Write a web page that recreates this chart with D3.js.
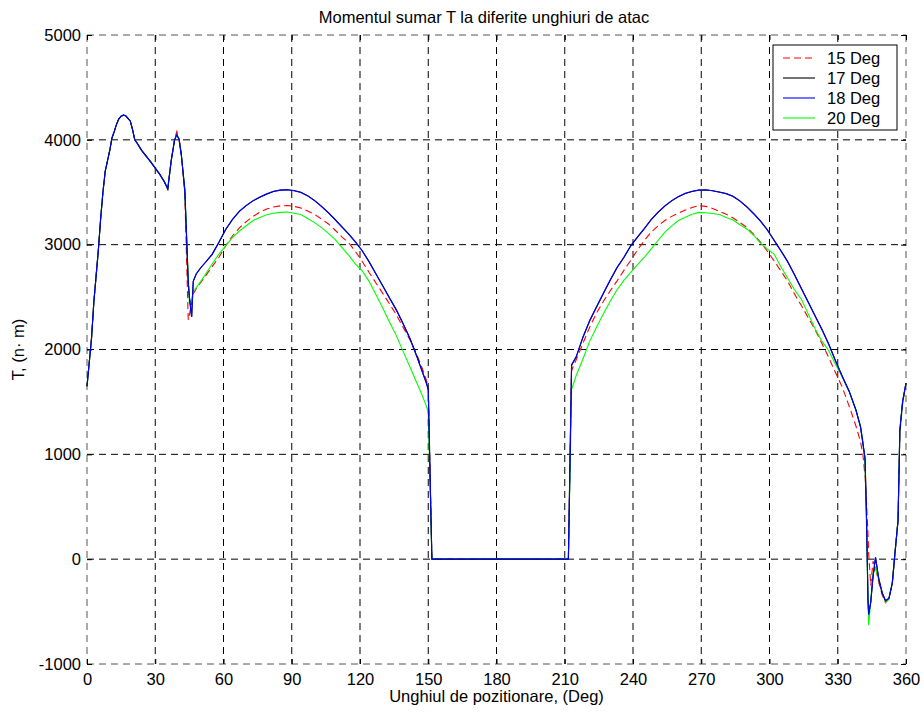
<!DOCTYPE html>
<html><head><meta charset="utf-8">
<script src="https://cdn.jsdelivr.net/npm/d3@7/dist/d3.min.js"></script>
<style>
body{margin:0;background:#fff}
text{font-family:"Liberation Sans",Arial,Helvetica,sans-serif;fill:#000}
</style>
</head><body>
<svg id="chart" width="924" height="713"></svg>
<script>
// ---- data ----
const title = "Momentul sumar T la diferite unghiuri de atac";
const xLabel = "Unghiul de pozitionare, (Deg)";
const yLabel = "T, (n· m)";
const xTicks = [0,30,60,90,120,150,180,210,240,270,300,330,360];
const yTicks = [-1000,0,1000,2000,3000,4000,5000];
const seriesNames = ["15 Deg","17 Deg","18 Deg","20 Deg"];

const angles = [
 0,2,3,4,5,6,7,8,9,10,11,12,13,14,15,16,17,18,19,20,21,22,24,26,28,30,32,34,35.5,37,38.5,39.5,40.5,41.5,43,44.5,45,46,46.7,
 48,50,52,55,58,61,64,67,70,73,76,79,82,85,88,91,94,97,100,103,106,109,112,115,118,121,124,127,130,133,136,139,142,145,147,149,150,151.6,
 180,211.6,
 213,215,218,221,224,227,230,233,236,239,242,245,248,251,254,257,260,263,266,269,272,275,278,281,284,287,290,293,296,299,302,305,308,311,314,317,320,323,326,329,332,335,338,
 340,341,342,342.6,343.3,343.6,344.5,345.5,346.6,348,349.5,351,352.5,354,355,356.5,357.3,358.5,360
];

const t15 = [
 1650,2110,2450,2700,2950,3250,3500,3700,3800,3900,4020,4080,4150,4200,4225,4235,4230,4205,4180,4100,4000,3970,3900,3845,3790,3730,3670,3600,3530,3800,4010,4080,4010,3860,3480,2283,2330,2440,2530,
 2580,2640,2700,2790,2880,2990,3085,3160,3220,3270,3310,3340,3360,3370,3373,3365,3350,3320,3290,3245,3200,3140,3075,3020,2935,2840,2735,2635,2535,2435,2330,2210,2090,1950,1840,1720,1650,0,
 0,0,
 1800,1900,2060,2215,2350,2460,2560,2655,2755,2850,2950,3040,3120,3180,3230,3270,3300,3330,3355,3372,3365,3345,3318,3290,3255,3210,3165,3100,3025,2940,2845,2750,2650,2530,2420,2305,2190,2060,1925,1780,1640,1460,1270,
 1120,1010,790,560,230,50,-250,-20,-80,-220,-340,-415,-380,-220,20,370,1200,1480,1680
];

const t17 = [
 1650,2110,2450,2700,2950,3250,3500,3700,3800,3900,4020,4080,4150,4200,4225,4235,4230,4205,4180,4100,4000,3970,3900,3845,3790,3730,3670,3600,3530,3800,4000,4050,4000,3850,3520,2640,2500,2310,2650,
 2720,2780,2830,2905,3020,3145,3240,3318,3372,3418,3452,3482,3508,3520,3524,3517,3500,3468,3422,3368,3308,3242,3172,3102,3028,2942,2838,2722,2608,2492,2378,2245,2105,1935,1812,1692,1620,0,
 0,0,
 1850,1925,2115,2275,2405,2535,2660,2780,2878,2988,3072,3152,3238,3308,3368,3418,3458,3488,3508,3520,3522,3515,3502,3487,3462,3418,3362,3298,3228,3145,3045,2945,2840,2715,2585,2455,2325,2195,2055,1895,1745,1605,1425,
 1265,1115,965,445,-395,-525,-410,-165,15,-185,-322,-398,-372,-228,22,372,1230,1500,1680
];

const t18 = [
 1650,2110,2450,2700,2950,3250,3500,3700,3800,3900,4020,4080,4150,4200,4225,4235,4230,4205,4180,4100,4000,3970,3900,3845,3790,3730,3670,3600,3530,3800,4000,4050,4000,3850,3520,2640,2500,2310,2650,
 2720,2780,2830,2910,3025,3150,3245,3320,3375,3420,3455,3485,3510,3520,3524,3515,3498,3465,3420,3365,3305,3240,3170,3100,3025,2940,2835,2720,2605,2490,2375,2240,2100,1930,1810,1690,1620,0,
 0,0,
 1855,1930,2120,2280,2410,2540,2665,2785,2880,2990,3075,3155,3240,3310,3370,3420,3460,3490,3510,3522,3524,3515,3500,3485,3460,3415,3360,3295,3225,3140,3040,2940,2835,2710,2580,2450,2320,2190,2050,1890,1740,1600,1420,
 1260,1110,960,440,-400,-530,-413,-170,20,-180,-320,-395,-375,-230,20,370,1230,1500,1680
];

const t20 = [
 1650,2110,2450,2700,2950,3250,3500,3700,3800,3900,4020,4080,4150,4200,4225,4235,4230,4205,4180,4100,4000,3970,3900,3845,3790,3730,3670,3600,3530,3800,4000,4050,4000,3850,3520,2700,2445,2480,2553,
 2590,2650,2715,2815,2910,2990,3070,3130,3180,3230,3260,3285,3300,3308,3311,3300,3288,3250,3210,3165,3110,3050,2975,2900,2815,2750,2650,2525,2395,2260,2130,1980,1830,1680,1580,1470,1400,0,
 0,0,
 1620,1750,1910,2080,2215,2340,2460,2570,2660,2735,2810,2880,2960,3040,3120,3180,3230,3262,3290,3308,3305,3298,3287,3260,3235,3190,3150,3090,3015,2960,2910,2790,2680,2570,2480,2340,2200,2080,1990,1860,1740,1600,1420,
 1270,1140,900,373,-400,-630,-400,-140,-80,-200,-310,-410,-380,-210,30,370,1230,1500,1680
];

const seriesValues = [t15, t17, t18, t20];
const seriesColors = ["#ff0000","#000000","#0000ff","#00ff00"];
const seriesDash = ["7,4", null, null, null];
const drawOrder = [0, 3, 1, 2];

// ---- layout ----
const L = 87, R = 906, T = 35, B = 664;
const FS = 16.5;
const svg = d3.select("#chart");
const x = d3.scaleLinear().domain([0,360]).range([L,R]);
const y = d3.scaleLinear().domain([-1000,5000]).range([B,T]);

// grid
const g = svg.append("g");
g.selectAll(".vg").data(xTicks).join("line")
  .attr("x1", d=>x(d)).attr("x2", d=>x(d)).attr("y1", T).attr("y2", B)
  .attr("stroke", d => (d===0||d===360) ? "#555" : "#000")
  .attr("stroke-width", 1).attr("stroke-dasharray","7,5");
g.selectAll(".hg").data(yTicks).join("line")
  .attr("y1", d=>y(d)).attr("y2", d=>y(d)).attr("x1", L).attr("x2", R)
  .attr("stroke", d => (d===-1000||d===5000) ? "#555" : "#000")
  .attr("stroke-width", 1).attr("stroke-dasharray","7,5");

// axes (inward ticks on all sides)
const ax = d3.axisBottom(x).tickValues(xTicks).tickSizeInner(-5).tickSizeOuter(0).tickPadding(9).tickFormat(d => String(d));
const ay = d3.axisLeft(y).tickValues(yTicks).tickSizeInner(-5).tickSizeOuter(0).tickPadding(6).tickFormat(d => String(d));
const axT = d3.axisTop(x).tickValues(xTicks).tickSizeInner(-5).tickSizeOuter(0).tickFormat("");
const ayR = d3.axisRight(y).tickValues(yTicks).tickSizeInner(-5).tickSizeOuter(0).tickFormat("");

function styleAxis(sel){
  sel.select(".domain").remove();
  sel.selectAll("line").attr("stroke","#000");
  sel.selectAll("text").attr("font-size", FS).attr("font-family","Liberation Sans, Arial, sans-serif").attr("fill","#000");
}
svg.append("g").attr("transform",`translate(0,${B})`).call(ax).call(styleAxis);
svg.append("g").attr("transform",`translate(${L},0)`).call(ay).call(styleAxis);
svg.append("g").attr("transform",`translate(0,${T})`).call(axT).call(styleAxis);
svg.append("g").attr("transform",`translate(${R},0)`).call(ayR).call(styleAxis);

// lines
const line = d3.line().x((d,i)=>x(angles[i])).y(d=>y(d));
const lg = svg.append("g");
drawOrder.forEach(k => {
  lg.append("path").datum(seriesValues[k])
    .attr("d", line).attr("fill","none")
    .attr("stroke", seriesColors[k]).attr("stroke-width", 1.1)
    .attr("stroke-dasharray", seriesDash[k]);
});

// titles
svg.append("text").attr("x", 484).attr("y", 23).attr("text-anchor","middle")
  .attr("font-size", FS).text(title);
svg.append("text").attr("x", (L+R)/2).attr("y", 702).attr("text-anchor","middle")
  .attr("font-size", FS).text(xLabel);
svg.append("text").attr("transform",`translate(24,${(T+B)/2}) rotate(-90)`).attr("text-anchor","middle")
  .attr("font-size", FS).text(yLabel);

// legend
const lgX = 773, lgY = 45, lgW = 124, lgH = 85;
const leg = svg.append("g");
leg.append("rect").attr("x", lgX).attr("y", lgY).attr("width", lgW).attr("height", lgH)
  .attr("fill","#fff").attr("stroke","#000").attr("stroke-width",1);
seriesNames.forEach((name,i) => {
  const cy = lgY + 13 + i*20;
  leg.append("line").attr("x1", lgX+10).attr("x2", lgX+42).attr("y1", cy).attr("y2", cy)
    .attr("stroke", seriesColors[i]).attr("stroke-width",1.1)
    .attr("stroke-dasharray", seriesDash[i]);
  leg.append("text").attr("x", lgX+54).attr("y", cy+6).attr("font-size", FS).text(name);
});
</script>
</body></html>
